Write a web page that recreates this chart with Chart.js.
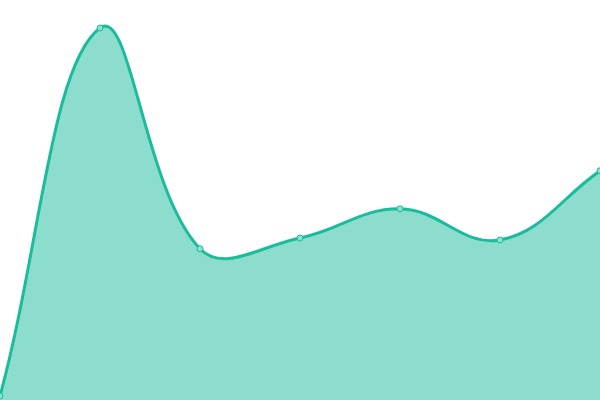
<!DOCTYPE html>
<html>
<head>
<meta charset="utf-8">
<script src="https://cdn.jsdelivr.net/npm/chart.js@4"></script>
<style>
  html, body { margin: 0; padding: 0; background: #fff; }
  #wrap { width: 600px; height: 400px; }
</style>
</head>
<body>
<div id="wrap"><canvas id="areaChart"></canvas></div>
<script>
var labels = ['A', 'B', 'C', 'D', 'E', 'F', 'G'];
var values = [1, 93, 37.8, 40.5, 47.8, 40, 57.3];

var ctx = document.getElementById('areaChart').getContext('2d');

var areaChart = new Chart(ctx, {
    type: 'line',
    data: {
        labels: labels,
        datasets: [{
            data: values,
            borderColor: 'rgba(26, 188, 156, 1)',
            backgroundColor: 'rgba(26, 188, 156, 0.5)',
            borderWidth: 3,
            fill: true,
            tension: 0.4,
            pointRadius: 3,
            pointBorderWidth: 1,
            pointBackgroundColor: 'rgba(140, 224, 207, 1)',
            pointBorderColor: 'rgba(26, 188, 156, 1)'
        }]
    },
    options: {
        responsive: true,
        maintainAspectRatio: false,
        animation: false,
        layout: { padding: 0, autoPadding: false },
        plugins: {
            legend: { display: false },
            tooltip: { enabled: false }
        },
        scales: {
            x: { display: false },
            y: { display: false, min: 0, max: 100 }
        }
    }
});
</script>
</body>
</html>
